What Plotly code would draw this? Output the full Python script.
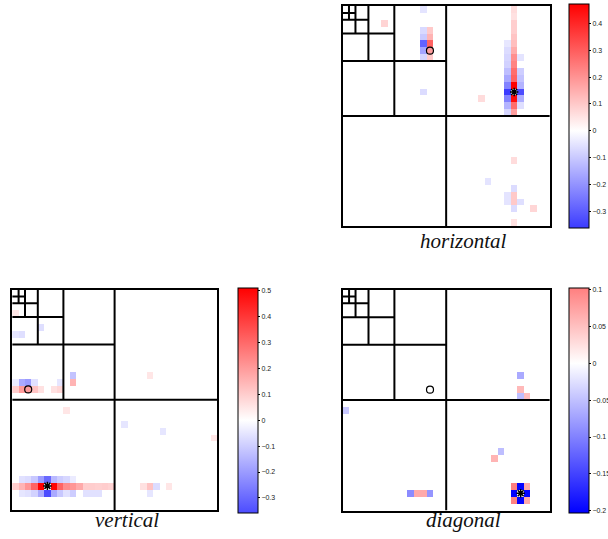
import numpy as np
import plotly.graph_objects as go

N = 32  # 32 x 32 coefficient grid per sub-band

# (row, col, value) of the non-zero coefficients, row 0 = top
H_CELLS = [
    (2, 6, 0.08), (0, 12, -0.05),
    (3, 12, -0.07), (4, 12, -0.10), (5, 12, -0.29), (6, 12, -0.17), (7, 12, -0.08),
    (3, 13, 0.10), (4, 13, 0.14), (5, 13, 0.29), (6, 13, 0.18), (7, 13, 0.10),
    (12, 12, -0.065), (13, 21, 0.065),
    (0, 26, 0.065), (1, 26, 0.055), (2, 26, 0.09), (3, 26, 0.09), (4, 26, 0.11),
    (5, 26, 0.12), (6, 26, 0.156), (7, 26, 0.21), (8, 26, 0.23), (9, 26, 0.27),
    (10, 26, 0.29), (11, 26, 0.472), (12, 26, 0.0), (13, 26, 0.45), (14, 26, 0.27),
    (15, 26, 0.18),
    (5, 25, -0.045), (6, 25, -0.065), (7, 25, -0.075), (8, 25, -0.085), (9, 25, -0.12),
    (10, 25, -0.16), (11, 25, -0.23), (12, 25, -0.362), (13, 25, -0.23), (14, 25, -0.14),
    (15, 25, -0.075),
    (7, 27, -0.05), (9, 27, -0.09), (10, 27, -0.11), (11, 27, -0.14), (12, 27, -0.33),
    (13, 27, -0.15), (14, 27, -0.06),
    (22, 26, 0.065), (25, 22, -0.05), (26, 26, -0.065), (27, 25, -0.05), (27, 26, 0.10),
    (28, 25, -0.05), (28, 26, 0.10), (28, 27, -0.06), (29, 26, -0.065), (29, 29, 0.075),
    (31, 26, 0.055),
]

V_CELLS = [
    (3, 0, 0.05), (6, 0, -0.05), (6, 1, -0.065), (5, 4, -0.065),
    (13, 0, -0.04), (13, 1, -0.17), (13, 2, -0.20), (13, 3, -0.06), (13, 7, -0.05),
    (14, 0, 0.10), (14, 1, 0.20), (14, 2, 0.20), (14, 3, 0.12), (14, 4, 0.06),
    (14, 6, 0.06), (14, 7, 0.08),
    (12, 9, -0.12), (13, 9, 0.15), (12, 21, 0.05), (17, 8, 0.05),
    (19, 17, -0.05), (20, 23, -0.05), (21, 31, 0.05),
    (27, 1, -0.06), (27, 2, -0.07), (27, 3, -0.11), (27, 4, -0.20), (27, 5, -0.30),
    (27, 6, -0.14), (27, 7, -0.10), (27, 8, -0.08), (27, 9, -0.04),
    (28, 0, 0.10), (28, 1, 0.15), (28, 2, 0.21), (28, 3, 0.31), (28, 4, 0.51),
    (28, 5, 0.0), (28, 6, 0.50), (28, 7, 0.31), (28, 8, 0.23), (28, 9, 0.21),
    (28, 10, 0.17), (28, 11, 0.10), (28, 12, 0.10), (28, 13, 0.095), (28, 14, 0.10),
    (28, 15, 0.09), (28, 20, 0.06), (28, 21, 0.12), (28, 22, -0.07), (28, 24, 0.05),
    (29, 1, -0.05), (29, 2, -0.06), (29, 3, -0.09), (29, 4, -0.17), (29, 5, -0.358),
    (29, 6, -0.17), (29, 7, -0.11), (29, 8, -0.06), (29, 9, -0.10), (29, 11, -0.06),
    (29, 12, -0.06), (29, 13, -0.06), (29, 21, -0.05),
]

D_CELLS = [
    (12, 27, -0.068), (14, 27, 0.056), (15, 27, -0.052), (15, 28, 0.052),
    (17, 0, -0.044), (23, 24, -0.052), (24, 23, 0.06),
    (29, 10, -0.092), (29, 11, 0.068), (29, 12, 0.068), (29, 13, -0.084),
    (28, 26, 0.102), (28, 27, -0.2), (28, 28, 0.068),
    (29, 26, -0.203), (29, 27, 0.0), (29, 28, -0.2),
    (30, 26, 0.1), (30, 27, -0.2), (30, 28, 0.068),
]

# marker positions (col, row)
H_CIRCLE, H_STAR = (13, 6), (26, 12)
V_CIRCLE, V_STAR = (2, 14), (5, 28)
D_CIRCLE, D_STAR = (13, 14), (27, 29)

H_TICKS = [-0.3, -0.2, -0.1, 0, 0.1, 0.2, 0.3, 0.4]
V_TICKS = [-0.3, -0.2, -0.1, 0, 0.1, 0.2, 0.3, 0.4, 0.5]
D_TICKS = [-0.2, -0.15, -0.1, -0.05, 0, 0.05, 0.1]

TITLES = ["horizontal", "vertical", "diagonal"]

W, H = 608, 539


def grid(cells):
    z = np.zeros((N, N))
    for r, c, v in cells:
        z[r, c] = v
    return z


def cscale(zmin, zmax):
    m = max(abs(zmin), abs(zmax))

    def col(v):
        if v >= 0:
            t = 255 * (1 - v / m)
            return f"rgb(255,{t:.0f},{t:.0f})"
        t = 255 * (1 + v / m)
        return f"rgb({t:.0f},{t:.0f},255)"

    f0 = -zmin / (zmax - zmin)
    return [[0, col(zmin)], [f0, "rgb(255,255,255)"], [1, col(zmax)]]


def fmt(v):
    if v == 0:
        return "0"
    s = f"{abs(v):g}"
    return ("\u2212" + s) if v < 0 else s


def px(x):
    return x / W


def py(y):
    return 1 - y / H


# panel boxes in pixels: (x0, x1, ytop, ybottom), colorbar (x, ytop, ybottom)
PANELS = [
    dict(cells=H_CELLS, circ=H_CIRCLE, star=H_STAR, ticks=H_TICKS,
         box=(342.5, 549.8, 6, 226), cb=(569, 4, 228), title=(463, 241)),
    dict(cells=V_CELLS, circ=V_CIRCLE, star=V_STAR, ticks=V_TICKS,
         box=(12.2, 217, 289.5, 510), cb=(238, 288, 513), title=(127, 520)),
    dict(cells=D_CELLS, circ=D_CIRCLE, star=D_STAR, ticks=D_TICKS,
         box=(342.6, 549.8, 289.5, 510.5), cb=(569, 288, 513), title=(463, 520)),
]

fig = go.Figure()
shapes = []
annotations = []
layout_axes = {}

for i, p in enumerate(PANELS, start=1):
    z = grid(p["cells"])
    zmin, zmax = float(z.min()), float(z.max())
    xa = "x" if i == 1 else f"x{i}"
    ya = "y" if i == 1 else f"y{i}"
    x0, x1, yt, yb = p["box"]
    cbx, cbt, cbb = p["cb"]
    fig.add_trace(go.Heatmap(
        z=z, x=list(range(N)), y=list(range(N)),
        zmin=zmin, zmax=zmax, colorscale=cscale(zmin, zmax),
        xaxis=xa, yaxis=ya, hoverinfo="skip",
        colorbar=dict(
            x=px(cbx), xanchor="left", xpad=0, ypad=0,
            y=py(cbt), yanchor="top", len=(cbb - cbt) / H, lenmode="fraction",
            thickness=20, thicknessmode="pixels",
            outlinewidth=1, outlinecolor="black",
            tickvals=p["ticks"], ticktext=[fmt(t) for t in p["ticks"]],
            ticks="outside", ticklen=2, tickwidth=1, tickcolor="black",
            tickfont=dict(family="Liberation Sans", size=7, color="#222"),
        ),
    ))
    cx, cy = p["circ"]
    sx, sy = p["star"]
    fig.add_trace(go.Scatter(
        x=[cx], y=[cy], mode="markers", xaxis=xa, yaxis=ya, hoverinfo="skip",
        marker=dict(symbol="circle-open", size=7, color="black", line=dict(width=1.2)),
    ))
    fig.add_trace(go.Scatter(
        x=[sx], y=[sy], mode="markers", xaxis=xa, yaxis=ya, hoverinfo="skip",
        marker=dict(symbol="asterisk-open", size=7, color="black", line=dict(width=1.5)),
    ))
    ax_common = dict(showgrid=False, zeroline=False, showticklabels=False, ticks="",
                     showline=True, mirror=True, linewidth=2, linecolor="black")
    layout_axes["xaxis" if i == 1 else f"xaxis{i}"] = dict(
        domain=[px(x0), px(x1)], range=[-0.5, N - 0.5], anchor=ya, **ax_common)
    layout_axes["yaxis" if i == 1 else f"yaxis{i}"] = dict(
        domain=[py(yb), py(yt)], range=[N - 0.5, -0.5], anchor=xa, **ax_common)
    # quadtree subdivision lines
    size = N
    while size > 1:
        half = size / 2
        pos = half - 0.5
        shapes.append(dict(type="line", xref=xa, yref=ya, x0=pos, x1=pos,
                           y0=-0.5, y1=size - 0.5, line=dict(color="black", width=2)))
        shapes.append(dict(type="line", xref=xa, yref=ya, y0=pos, y1=pos,
                           x0=-0.5, x1=size - 0.5, line=dict(color="black", width=2)))
        size = int(half)
    tx, ty = p["title"]
    annotations.append(dict(
        text=TITLES[i - 1], x=px(tx), y=py(ty), xref="paper", yref="paper",
        xanchor="center", yanchor="middle", showarrow=False,
        font=dict(family="Liberation Serif", size=21, style="italic", color="#111"),
    ))

fig.update_layout(
    width=W, height=H, showlegend=False,
    margin=dict(l=0, r=0, t=0, b=0, autoexpand=False),
    paper_bgcolor="white", plot_bgcolor="white",
    shapes=shapes, annotations=annotations, **layout_axes,
)

fig.write_html("out.html", config={"displayModeBar": False},
               post_script="document.body.style.margin='0';")
